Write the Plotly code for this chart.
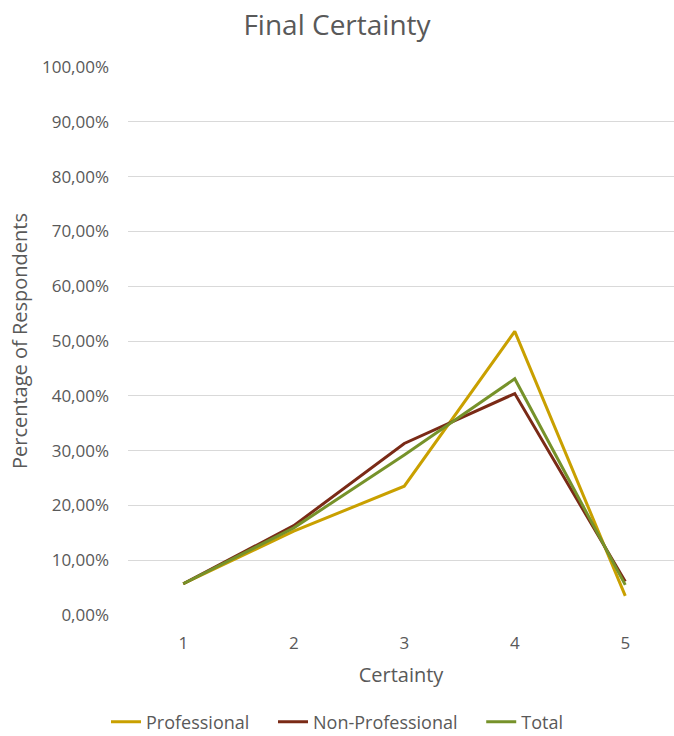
import plotly.graph_objects as go

certainty = [1, 2, 3, 4, 5]
professional = [0.057, 0.153, 0.235, 0.5175, 0.035]
non_professional = [0.057, 0.163, 0.313, 0.404, 0.061]
total = [0.057, 0.159, 0.292, 0.431, 0.055]

series = [
    ("Professional", professional, "#C9A000"),
    ("Non-Professional", non_professional, "#7A2A16"),
    ("Total", total, "#76922A"),
]

pad = "\u00a0" * 4
fig = go.Figure()
for i, (name, vals, col) in enumerate(series):
    label = name + (pad if i < len(series) - 1 else "")
    fig.add_trace(go.Scatter(x=certainty, y=vals, mode="lines", name=label,
                             line=dict(color=col, width=3)))

font = "Open Sans, Noto Sans, sans-serif"
fig.update_layout(
    width=674, height=736,
    margin=dict(l=128, r=0, t=67, b=121),
    paper_bgcolor="white", plot_bgcolor="white",
    separators=",.",
    font=dict(family=font, color="#595959", size=17),
    title=dict(text="Final Certainty", x=0.5, xref="container", xanchor="center",
               y=1 - 25 / 736, yref="container", yanchor="middle",
               font=dict(size=28, color="#595959", family=font)),
    xaxis=dict(range=[0.5, 5.441], tickvals=certainty, ticktext=[str(c) for c in certainty],
               showgrid=False, zeroline=False, showline=False, ticks="",
               ticklabelstandoff=16, automargin=False,
               title=dict(text="Certainty", standoff=14, font=dict(size=20))),
    yaxis=dict(range=[0, 1.0], dtick=0.1, tickformat=".2%", showgrid=True,
               gridcolor="#D9D9D9", gridwidth=1, zeroline=False, showline=False,
               ticks="", ticklabelstandoff=18, automargin=False,
               title=dict(text="Percentage of Respondents", standoff=8, font=dict(size=20))),
    legend=dict(orientation="h", x=0.5, xref="container", xanchor="center",
                y=1 - 722 / 736, yref="container", yanchor="middle",
                font=dict(size=18, color="#595959"), itemwidth=30,
                tracegroupgap=0),
)
fig.update_xaxes(tickfont=dict(size=17))
fig.update_yaxes(tickfont=dict(size=17))

fig.write_html("out.html")
